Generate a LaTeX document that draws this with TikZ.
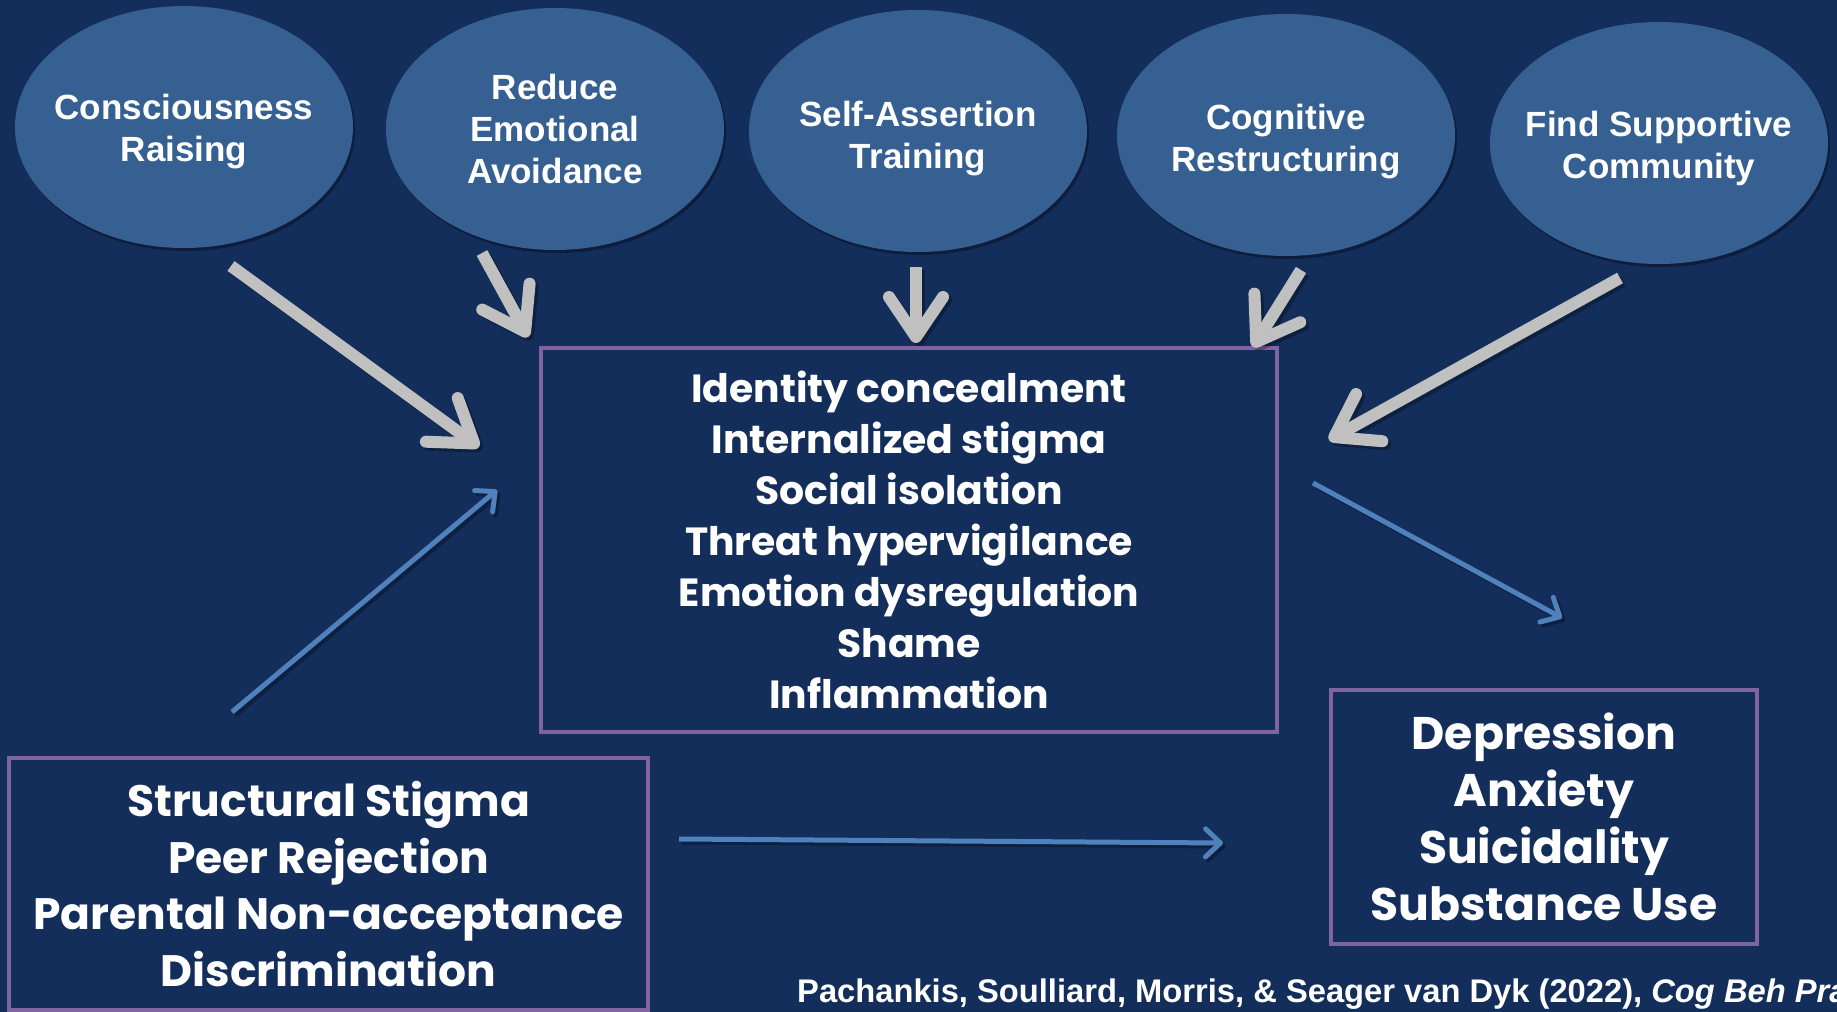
\documentclass[tikz,border=0pt]{standalone}
\usepackage{fontspec}
\setmainfont{Liberation Sans}
\newfontfamily\boxfont{Poppins}
\usetikzlibrary{arrows.meta,shapes.geometric,shadows}
\definecolor{bgblue}{RGB}{20,46,92}
\definecolor{bubblefill}{RGB}{55,96,146}
\definecolor{boxpurple}{RGB}{128,100,162}
\definecolor{arrgray}{RGB}{192,192,192}
\definecolor{arrblue}{RGB}{79,129,189}
\tikzset{
  bubble/.style={ellipse, fill=bubblefill, minimum width=338pt, minimum height=242pt, inner sep=0pt,
    drop shadow={shadow xshift=2pt, shadow yshift=-3pt, opacity=.35, fill=black}},
  bubtext/.style={text=white, align=center, font=\bfseries\fontsize{35}{42}\selectfont, inner sep=0pt},
  stepbox/.style={rectangle, draw=boxpurple, line width=4.5pt, fill=bgblue, text=white, align=center, inner sep=0pt},
  grayarrow/.style={draw=arrgray, line width=12pt, -{Straight Barb[length=40pt,width=54pt,round]}},
  bluearrow/.style={draw=arrblue, line width=5pt, -{Straight Barb[length=15pt,width=28pt,round]}},
  shadecopy/.style={draw=black, opacity=.3, transform canvas={shift={(3pt,-3pt)}}}
}
\begin{document}
\begin{tikzpicture}[x=1pt,y=-1pt]
\useasboundingbox (0,0) rectangle (1837,1012);
\fill[bgblue] (0,0) rectangle (1837,1012);
\clip (0,0) rectangle (1837,1012);

% top ellipses
\node[bubble] (e1) at (184,127) {};
\node[bubtext, yshift=-5pt] (t1) at (e1.center) {Consciousness\\Raising};
\node[bubble] (e2) at (555,129) {};
\node[bubtext] (t2) at (e2.center) {Reduce\\Emotional\\Avoidance};
\node[bubble] (e3) at (918,131) {};
\node[bubtext, yshift=-8pt] (t3) at (e3.center) {Self-Assertion\\Training};
\node[bubble] (e4) at (1286,135) {};
\node[bubtext, yshift=-7pt] (t4) at (e4.center) {Cognitive\\Restructuring};
\node[bubble] (e5) at (1659,143) {};
\node[bubtext, yshift=-5pt] (t5) at (e5.center) {Find Supportive\\Community};

% boxes
\node[stepbox, font=\boxfont\bfseries\fontsize{39.3}{51}\selectfont, minimum width=736pt, minimum height=384pt] (mid) at (909,540)
  {Identity concealment\\Internalized stigma\\Social isolation\\Threat hypervigilance\\Emotion dysregulation\\Shame\\Inflammation};
\node[stepbox, font=\boxfont\bfseries\fontsize{44}{56.5}\selectfont, minimum width=639pt, minimum height=252pt] (src) at (328.5,884)
  {Structural Stigma\\Peer Rejection\\Parental Non-acceptance\\Discrimination};
\node[stepbox, font=\boxfont\bfseries\fontsize{45.7}{57}\selectfont, minimum width=426pt, minimum height=254pt] (out) at (1544,817)
  {Depression\\Anxiety\\Suicidality\\Substance Use};

% arrow end points
\coordinate (g1s) at (231,266);  \coordinate (g1e) at (479,447);
\coordinate (g2s) at (482,253);  \coordinate (g2e) at (528,337);
\coordinate (g3s) at (916,267);  \coordinate (g3e) at (916,343);
\coordinate (g4s) at (1301,270); \coordinate (g4e) at (1253,347);
\coordinate (g5s) at (1620,278); \coordinate (g5e) at (1329,440);
\coordinate (b1s) at (232,712);  \coordinate (b1e) at (497,490);
\coordinate (b2s) at (1313,483); \coordinate (b2e) at (1562,618);
\coordinate (b3s) at (679,839);  \coordinate (b3e) at (1223,843);

% shadows
\foreach \s/\e in {g1s/g1e,g2s/g2e,g3s/g3e,g4s/g4e,g5s/g5e}
  \draw[grayarrow, shadecopy] (\s) -- (\e);
\foreach \s/\e in {b1s/b1e,b2s/b2e,b3s/b3e}
  \draw[bluearrow, shadecopy] (\s) -- (\e);

% gray arrows
\draw[grayarrow] (g1s) -- (g1e);
\draw[grayarrow] (g2s) -- (g2e);
\draw[grayarrow] (g3s) -- (g3e);
\draw[grayarrow] (g4s) -- (g4e);
\draw[grayarrow] (g5s) -- (g5e);
% blue arrows
\draw[bluearrow] (b1s) -- (b1e);
\draw[bluearrow] (b2s) -- (b2e);
\draw[bluearrow] (b3s) -- (b3e);

% footer
\node[anchor=base west, text=white, inner sep=0pt, font=\bfseries\fontsize{32.7}{38}\selectfont] (cite) at (797,1002)
  {Pachankis, Soulliard, Morris, \& Seager van Dyk (2022), \textit{Cog Beh Pra}};
\end{tikzpicture}
\end{document}
